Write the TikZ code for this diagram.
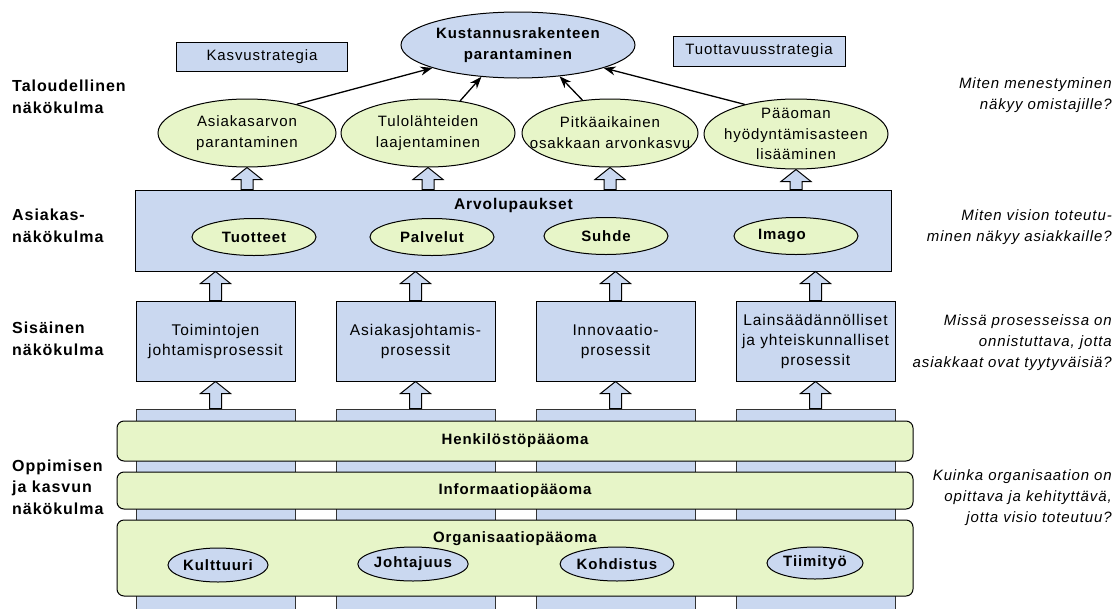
\documentclass[tikz,border=0pt]{standalone}
\usepackage{fontspec}
\setmainfont{Liberation Sans}[LetterSpace=6]
\usetikzlibrary{arrows.meta, positioning, shapes.geometric, calc}
\definecolor{blueFill}{RGB}{202,216,240}
\definecolor{greenFill}{RGB}{231,245,200}

\begin{document}
\begin{tikzpicture}[x=1pt, y=-1pt, font=\fontsize{15}{21}\selectfont]
	\tikzstyle{Box} = [rectangle, draw=black, fill=blueFill, line width=1pt, inner sep=0pt, align=center]
	\tikzstyle{ProcessBox} = [Box, minimum width=159pt, minimum height=80pt, font=\fontsize{15.5}{20}\selectfont]
	\tikzstyle{GreenEllipse} = [ellipse, draw=black, fill=greenFill, line width=1pt, inner sep=0pt, align=center]
	\tikzstyle{ValueEllipse} = [GreenEllipse, minimum width=124pt, minimum height=37pt, font=\fontsize{15}{21}\selectfont\bfseries]
	\tikzstyle{BlueEllipse} = [ellipse, draw=black, fill=blueFill, line width=1pt, inner sep=0pt, align=center, font=\fontsize{15}{21}\selectfont\bfseries]
	\tikzstyle{Bar} = [rectangle, rounded corners=7pt, draw=black, fill=greenFill, line width=1pt, minimum width=796pt, inner sep=0pt, font=\fontsize{15}{21}\selectfont\bfseries]
	\tikzstyle{Strip} = [rectangle, draw=black!80, fill=blueFill, line width=1pt, minimum width=159pt, minimum height=210pt]
	\tikzstyle{View} = [anchor=west, align=left, inner sep=0pt, font=\fontsize{16}{21.5}\selectfont\bfseries]
	\tikzstyle{Question} = [anchor=east, align=right, inner sep=0pt, font=\fontsize{15}{21}\selectfont\itshape]
	\tikzstyle{arrow} = [line width=1.3pt, -{Stealth[length=12pt, width=9pt]}]
	\tikzstyle{blockArrow} = [draw=black, fill=blueFill, line width=1pt, to path={let \p1=(\tikztostart), \p2=(\tikztotarget) in (\x1-6pt,\y1) -- (\x1-6pt,\y2-12pt) -- (\x1-15pt,\y2-12pt) -- (\x1,\y2) -- (\x1+15pt,\y2-12pt) -- (\x1+6pt,\y2-12pt) -- (\x1+6pt,\y1) -- cycle}]
	
	\useasboundingbox (0,0) rectangle (1116,608);
	
	\node (viewFinance) [View] at (12,97) {Taloudellinen\\näkökulma};
	\node (viewCustomer) [View] at (12,226) {Asiakas-\\näkökulma};
	\node (viewInternal) [View] at (12,339) {Sisäinen\\näkökulma};
	\node (viewLearning) [View] at (12,487) {Oppimisen\\ja kasvun\\näkökulma};
	
	\node (qFinance) [Question] at (1112,95) {Miten menestyminen\\näkyy omistajille?};
	\node (qCustomer) [Question] at (1112,227) {Miten vision toteutu-\\minen näkyy asiakkaille?};
	\node (qInternal) [Question] at (1112,343) {Missä prosesseissa on\\onnistuttava, jotta\\asiakkaat ovat tyytyväisiä?};
	\node (qLearning) [Question] at (1112,498) {Kuinka organisaation on\\opittava ja kehityttävä,\\jotta visio toteutuu?};
	
	\node (growth) [Box, minimum width=171pt, minimum height=29pt] at (262,57) {Kasvustrategia};
	\node (productivity) [Box, minimum width=172pt, minimum height=30pt] at (759,51) {Tuottavuusstrategia};
	\node (cost) [BlueEllipse, minimum width=234pt, minimum height=66pt] at (518,45) {Kustannusrakenteen\\parantaminen};
	
	\node (customerValue) [GreenEllipse, minimum width=178pt, minimum height=68pt] at (247,133) {Asiakasarvon\\parantaminen};
	\node (revenue) [GreenEllipse, minimum width=174pt, minimum height=68pt] at (428,133) {Tulolähteiden\\laajentaminen};
	\node (shareholder) [GreenEllipse, minimum width=176pt, minimum height=68pt, inner xsep=-18pt] at (610,133) {Pitkäaikainen\\osakkaan arvonkasvu};
	\node (capital) [GreenEllipse, minimum width=184pt, minimum height=70pt, inner xsep=-8pt, inner ysep=-5pt, font=\fontsize{15}{20.5}\selectfont] at (796,134) {Pääoman\\hyödyntämisasteen\\lisääminen};
	
	\draw[arrow] (customerValue.30) -- (cost.195);
	\draw[arrow] (revenue.45) -- (cost.221);
	\draw[arrow] (shareholder.130) -- (cost.323);
	\draw[arrow] (capital.150) -- (cost.345);
	
	\node (valueProp) [Box, minimum width=756pt, minimum height=81pt] at (513.5,230.5) {};
	\node (valuePropTitle) [below = 5pt of valueProp.north, font=\fontsize{15.5}{21}\selectfont\bfseries] {Arvolupaukset};
	\node (products) [ValueEllipse] at (254,237) {Tuotteet};
	\node (services) [ValueEllipse] at (432,237) {Palvelut};
	\node (relation) [ValueEllipse] at (606,236) {Suhde};
	\node (image) [ValueEllipse] at (796,236) {Imago\hspace*{28pt}};
	
	\draw[blockArrow] (valueProp.north -| customerValue.south) to (customerValue.south);
	\draw[blockArrow] (valueProp.north -| revenue.south) to (revenue.south);
	\draw[blockArrow] (valueProp.north -| shareholder.south) to (shareholder.south);
	\draw[blockArrow] (valueProp.north -| capital.south) to (capital.south);
	
	\node (operations) [ProcessBox] at (215.5,341) {Toimintojen\\johtamisprosessit};
	\node (customerMgmt) [ProcessBox, right = 40pt of operations] {Asiakasjohtamis-\\prosessit};
	\node (innovation) [ProcessBox, right = 40pt of customerMgmt] {Innovaatio-\\prosessit};
	\node (regulatory) [ProcessBox, right = 40pt of innovation] {Lainsäädännölliset\\ja yhteiskunnalliset\\prosessit};
	
	\draw[blockArrow] (operations.north) to (valueProp.south -| operations.north);
	\draw[blockArrow] (customerMgmt.north) to (valueProp.south -| customerMgmt.north);
	\draw[blockArrow] (innovation.north) to (valueProp.south -| innovation.north);
	\draw[blockArrow] (regulatory.north) to (valueProp.south -| regulatory.north);
	
	\node (strip1) [Strip, below = 27pt of operations] {};
	\node (strip2) [Strip, below = 27pt of customerMgmt] {};
	\node (strip3) [Strip, below = 27pt of innovation] {};
	\node (strip4) [Strip, below = 27pt of regulatory] {};
	
	\draw[blockArrow] (strip1.north) to (operations.south);
	\draw[blockArrow] (strip2.north) to (customerMgmt.south);
	\draw[blockArrow] (strip3.north) to (innovation.south);
	\draw[blockArrow] (strip4.north) to (regulatory.south);
	
	\node (humanCapital) [Bar, minimum height=40pt] at (515,441) {Henkilöstöpääoma};
	\node (infoCapital) [Bar, minimum height=37pt] at (515,490.5) {Informaatiopääoma};
	\node (orgCapital) [Bar, minimum height=76pt] at (515,558) {};
	\node (orgCapitalTitle) [below = 9pt of orgCapital.north, font=\fontsize{15}{21}\selectfont\bfseries] {Organisaatiopääoma};
	
	\node (culture) [BlueEllipse, minimum width=100pt, minimum height=34pt] at (218,565) {Kulttuuri};
	\node (leadership) [BlueEllipse, minimum width=92pt, minimum height=34pt] at (413,564) {Johtajuus};
	\node (alignment) [BlueEllipse, minimum width=100pt, minimum height=34pt] at (617,564) {Kohdistus};
	\node (teamwork) [BlueEllipse, minimum width=96pt, minimum height=32pt] at (815,563) {Tiimityö};
\end{tikzpicture}
\end{document}
